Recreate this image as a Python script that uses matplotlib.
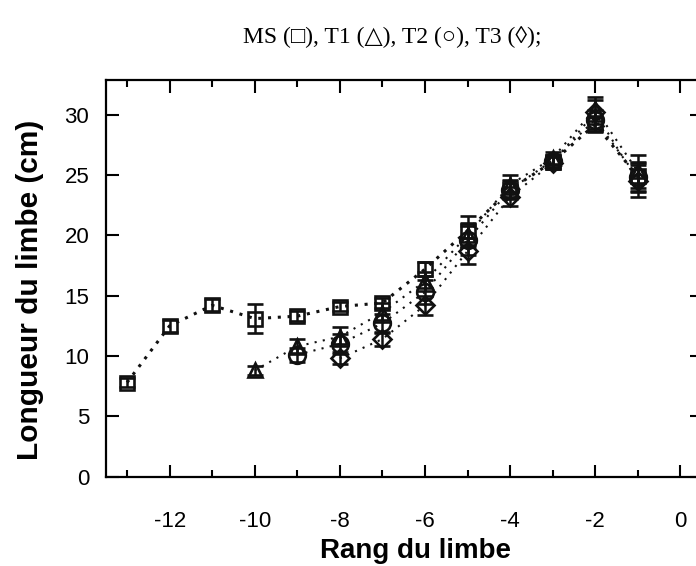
import numpy as np
import matplotlib.pyplot as plt
from matplotlib.ticker import MultipleLocator

# ── Data: blade length by blade rank ─────────────────────────────────────────
RANK_MS = [-13, -12, -11, -10, -9, -8, -7, -6, -5, -4, -3, -2, -1]
LEN_MS  = [7.8, 12.5, 14.2, 13.1, 13.3, 14.1, 14.4, 17.2, 20.4, 23.8, 26.1, 29.2, 24.9]
ERR_MS  = [0.4, 0.5, 0.5, 1.2, 0.4, 0.4, 0.4, 0.6, 1.2, 0.7, 0.5, 0.6, 1.2]

RANK_T1 = [-10, -9, -8, -7, -6, -5, -4, -3, -2, -1]
LEN_T1  = [8.8, 10.8, 11.6, 13.6, 16.2, 20.0, 24.2, 26.4, 30.5, 25.3]
ERR_T1  = [0.4, 0.6, 0.8, 0.8, 0.8, 1.0, 0.8, 0.5, 1.0, 1.4]

RANK_T2 = [-9, -8, -7, -6, -5, -4, -3, -2, -1]
LEN_T2  = [10.1, 11.0, 12.7, 15.3, 19.6, 23.8, 26.2, 29.6, 24.8]
ERR_T2  = [0.6, 0.8, 0.8, 1.0, 1.2, 0.8, 0.5, 0.8, 1.2]

RANK_T3 = [-8, -7, -6, -5, -4, -3, -2, -1]
LEN_T3  = [9.8, 11.4, 14.2, 18.7, 23.2, 26.0, 30.2, 24.5]
ERR_T3  = [0.5, 0.6, 0.8, 1.1, 0.8, 0.5, 1.0, 1.3]

X_TICKS = [-12, -10, -8, -6, -4, -2, 0]
Y_TICKS = [0, 5, 10, 15, 20, 25, 30]

plt.rcParams["font.family"] = ["Liberation Sans", "DejaVu Sans"]
plt.rcParams["axes.unicode_minus"] = False

fig = plt.figure(figsize=(6.96, 5.66), dpi=100)
ax = fig.add_axes([0.152, 0.158, 0.856, 0.701])

# (x, y, err, marker, size, line width, dot pattern)
series = [
    (RANK_MS, LEN_MS, ERR_MS, "s", 10, 2.2, (0, (1, 2.2))),
    (RANK_T1, LEN_T1, ERR_T1, "^", 10, 1.5, (0, (1, 3))),
    (RANK_T2, LEN_T2, ERR_T2, "o", 12, 1.5, (0, (1, 3))),
    (RANK_T3, LEN_T3, ERR_T3, "D", 9, 1.5, (0, (1, 3))),
]
for x, y, e, m, ms, lw, dots in series:
    ax.errorbar(x, y, yerr=e, fmt=m, ls=dots, lw=lw, color="#111111",
                ms=ms, mfc="none", mec="#111111", mew=1.9,
                ecolor="#111111", elinewidth=1.8, capsize=5.5, capthick=1.8)

ax.set_xlim(-13.5, 0.5)
ax.set_ylim(0, 32.9)
ax.set_xticks(X_TICKS)
ax.set_yticks(Y_TICKS)
ax.xaxis.set_minor_locator(MultipleLocator(1))
ax.tick_params(which="both", direction="in", top=True, right=True, width=1.5)
ax.tick_params(which="major", length=9, labelsize=16)
ax.tick_params(which="minor", length=5)
ax.tick_params(axis="x", which="major", pad=25)
ax.tick_params(axis="y", which="major", pad=12)
for sp in ax.spines.values():
    sp.set_linewidth(1.6)

ax.set_xlabel("Rang du limbe", fontsize=20, fontweight="bold")
ax.set_ylabel("Longueur du limbe (cm)", fontsize=21.5, fontweight="bold")
ax.xaxis.set_label_coords(0.52, -0.155)
ax.yaxis.set_label_coords(-0.103, 0.47)

fig.text(0.563, 0.934, "MS (\u25a1), T1 (\u25b3), T2 (\u25cb), T3 (\u25ca);",
         ha="center", va="center", fontsize=17,
         family=["Liberation Serif", "DejaVu Serif"])

plt.savefig("out.png", dpi=100)
